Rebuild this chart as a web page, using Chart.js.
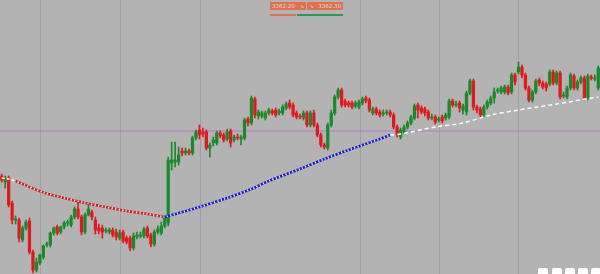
<html>
<head>
<script src="https://cdn.jsdelivr.net/npm/chart.js@4.4.0/dist/chart.umd.min.js"></script>
<style>
    body { margin: 0; background: #b3b3b3; }
    #wrap { position: relative; width: 600px; height: 274px; overflow: hidden; }
    .tag {
        position: absolute; top: 2px; height: 8px; width: 36px; box-sizing: border-box;
        padding: 0 2px; display: flex; justify-content: space-between;
        background: #e0714f; color: #f6d4c8; border-radius: 1px;
        font: 5.5px "DejaVu Sans", sans-serif; line-height: 8px; white-space: nowrap;
    }
    .bar { position: absolute; top: 14px; height: 2px; }
    .btn { position: absolute; top: 268px; width: 10px; height: 8px; background: #fff; border-radius: 2px; }
</style>
</head>
<body>
<div id="wrap">
    <canvas id="chart" width="600" height="274"></canvas>

    <div class="tag" style="left:270px;"><span>3362.20</span><span>↘</span></div>
    <div class="tag" style="left:307px;"><span>↘</span><span>3362.30</span></div>
    <div class="bar" style="left:270px; width:26px; background:#e0714f;"></div>
    <div class="bar" style="left:297px; width:46px; background:#2a9a5c;"></div>

    <div class="btn" style="left:538px;"></div>
    <div class="btn" style="left:552px;"></div>
    <div class="btn" style="left:565px;"></div>
    <div class="btn" style="left:578px;"></div>
    <div class="btn" style="left:591px;"></div>
</div>

<script>
    // candles, one per bar (values in chart units, 0 = bottom of the view)
    const opens = [98,92,96,71,54,54,34,46,53,22,4,11,17,29,29,41,47,42,47,51,
        49,57,65,57,42,59,62,54,46,46,43,42,44,42,36,42,36,36,26,37,
        38,38,46,39,30,42,41,48,51,111,112,112,123,121,123,121,136,144,142,142,
        126,131,131,141,139,135,143,134,137,135,136,155,151,175,158,158,156,161,163,164,
        161,161,166,171,169,161,158,156,161,149,161,149,139,129,126,149,161,177,184,173,
        171,171,168,167,171,176,174,161,165,162,160,161,162,159,147,137,142,147,151,156,
        169,166,165,162,156,157,154,157,156,157,173,169,171,164,162,181,193,167,165,159,
        167,171,176,183,182,182,187,182,199,202,207,199,186,174,182,194,191,190,190,202,
        191,201,178,177,186,198,186,192,196,176,197,195,186];
    const highs = [100,98,98,73,58,56,48,54,56,24,16,20,29,32,42,47,49,48,53,54,
        59,67,72,59,61,71,64,57,50,49,46,46,46,45,44,44,38,38,41,42,
        42,47,48,41,44,48,52,58,117,132,132,127,126,126,125,138,144,149,146,144,
        131,137,143,143,141,145,145,139,140,139,156,157,178,177,164,163,163,166,165,166,
        165,169,172,174,171,163,160,163,163,163,164,151,141,131,151,164,179,186,186,175,
        173,173,173,174,177,178,176,167,167,164,164,164,164,161,149,146,149,153,159,170,
        171,168,167,164,160,159,157,159,161,175,175,173,173,170,183,195,195,169,167,169,
        174,178,186,186,188,189,189,201,201,212,209,201,188,184,195,196,193,192,204,204,
        203,203,182,188,201,200,194,198,198,200,199,199,208];
    const lows = [92,86,67,50,50,32,32,44,20,1,2,9,15,27,27,39,39,40,45,48,
        47,55,55,39,40,58,54,40,40,36,41,40,37,34,34,31,30,23,24,35,
        36,36,36,27,28,40,39,46,48,104,107,109,118,119,119,119,134,135,137,124,
        117,128,129,136,132,133,127,132,134,129,134,148,149,156,155,156,154,159,159,157,
        159,159,164,165,157,155,155,154,147,147,147,137,127,125,124,147,159,175,167,167,
        167,165,166,165,169,171,162,159,159,157,158,159,157,145,137,135,140,145,149,154,
        156,160,158,154,154,150,152,151,154,155,167,167,162,160,159,179,164,161,157,157,
        165,169,171,181,180,180,179,180,189,200,196,184,172,172,180,188,185,183,188,189,
        189,175,176,175,184,184,184,190,174,174,194,193,184];
    const closes = [94,96,69,54,55,36,46,52,22,4,12,19,28,30,41,46,41,47,51,52,
        57,65,57,42,59,65,57,44,43,42,44,44,39,37,41,33,32,26,38,39,
        39,45,38,30,42,45,48,56,114,114,114,119,121,123,121,136,142,139,140,126,
        129,134,141,138,134,142,131,137,136,137,154,151,176,159,162,161,161,164,161,159,
        163,167,170,167,159,157,157,161,149,161,149,139,129,127,149,161,177,184,169,169,
        169,167,171,172,175,173,164,165,161,159,161,162,159,147,139,144,147,151,157,168,
        164,162,161,156,157,152,155,153,159,173,169,170,166,168,181,193,167,164,159,167,
        172,176,182,184,186,187,181,199,192,207,199,186,174,182,193,191,187,186,202,191,
        201,177,179,186,199,186,192,196,176,198,196,196,206];

    // moving-average style overlays: candle index -> value
    const startIdx = [0, 2, 4];
    const startVal = [96, 95, 93];
    const redIdx = [4, 6, 12, 18, 24, 30, 36, 42, 47];
    const redVal = [93, 90, 81.5, 76, 71, 67, 63, 60, 57];
    const blueIdx = [47, 57, 65, 72, 77, 86, 93, 100, 109, 112];
    const blueVal = [57, 67, 76, 85, 93, 105, 115, 124, 135, 139];
    const whiteIdx = [112, 115, 125, 133, 141, 149, 160, 170, 172];
    const whiteVal = [139, 140, 147, 151, 159, 164, 170, 176, 177];

    const levelVal = 143;                                  // purple horizontal level
    const gridIdx = [11.3, 34.1, 57.2, 103.3, 126.1, 148.9]; // session separators

    const UP = '#178a29';
    const DOWN = '#e6161d';

    const n = closes.length;
    const pts = (xs, ys) => xs.map((x, i) => ({ x: x, y: ys[i] }));
    const candleColor = (ctx) => {
        const i = ctx.dataIndex;
        return closes[i] >= opens[i] ? UP : DOWN;
    };

    new Chart(document.getElementById('chart'), {
        type: 'bar',
        data: {
            datasets: [
                {
                    type: 'line', data: pts(whiteIdx, whiteVal), order: 1,
                    borderColor: '#ffffff', borderWidth: 1.5, borderDash: [4, 3],
                    pointRadius: 0, tension: 0.3
                },
                {
                    type: 'line', data: pts(startIdx, startVal), order: 1,
                    borderColor: '#ffffff', borderWidth: 1.5, borderDash: [3, 2],
                    pointRadius: 0
                },
                {
                    type: 'line', data: pts(redIdx, redVal), order: 2,
                    borderColor: '#e01818', borderWidth: 2.6, borderDash: [2.2, 1.3],
                    pointRadius: 0, tension: 0.3
                },
                {
                    type: 'line', data: pts(redIdx, redVal), order: 3,
                    borderColor: '#ffffff', borderWidth: 1,
                    pointRadius: 0, tension: 0.3
                },
                {
                    type: 'line', data: pts(blueIdx, blueVal), order: 2,
                    borderColor: '#1616e0', borderWidth: 2.6, borderDash: [2.2, 1.3],
                    pointRadius: 0, tension: 0.3
                },
                {
                    type: 'line', data: pts(blueIdx, blueVal), order: 3,
                    borderColor: '#ffffff', borderWidth: 1,
                    pointRadius: 0, tension: 0.3
                },
                {
                    data: opens.map((o, i) => ({ x: i, y: [o, closes[i]] })), order: 4,
                    backgroundColor: candleColor, barThickness: 2.6, minBarLength: 1, grouped: false
                },
                {
                    data: lows.map((l, i) => ({ x: i, y: [l, highs[i]] })), order: 5,
                    backgroundColor: candleColor, barThickness: 1, grouped: false
                },
                {
                    type: 'line', data: [{ x: -0.5, y: levelVal }, { x: n - 0.5, y: levelVal }], order: 6,
                    borderColor: '#b876c8', borderWidth: 1, pointRadius: 0
                }
            ]
        },
        options: {
            responsive: false,
            animation: false,
            layout: { padding: 0 },
            plugins: { legend: { display: false }, tooltip: { enabled: false } },
            scales: {
                x: {
                    type: 'linear', min: -0.5, max: n - 0.5, offset: false,
                    afterBuildTicks: (scale) => { scale.ticks = gridIdx.map(v => ({ value: v })); },
                    ticks: { display: false },
                    border: { display: false },
                    grid: { color: '#a0a0a0', lineWidth: 1, drawTicks: false, offset: false }
                },
                y: { display: false, min: 0, max: 274 }
            }
        }
    });
</script>
</body>
</html>
